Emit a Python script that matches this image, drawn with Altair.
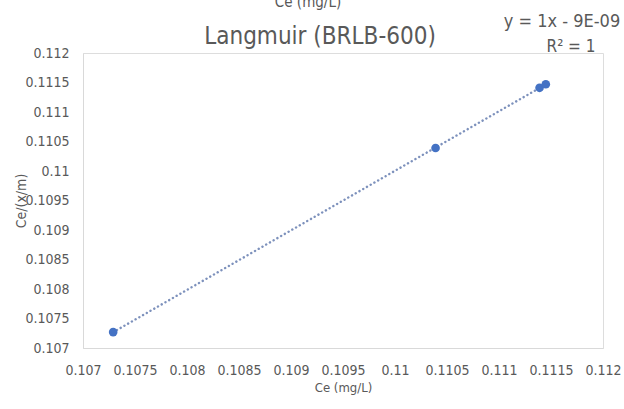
import altair as alt
import pandas as pd

# Data
ce = [0.10729, 0.11039, 0.11139, 0.11145]
ce_xm = [0.10727, 0.11039, 0.11141, 0.11147]
x_ticks = [0.107, 0.1075, 0.108, 0.1085, 0.109, 0.1095, 0.11, 0.1105, 0.111, 0.1115, 0.112]
y_ticks = [0.107, 0.1075, 0.108, 0.1085, 0.109, 0.1095, 0.11, 0.1105, 0.111, 0.1115, 0.112]

title_text = "Langmuir (BRLB-600)"
eq_text = "y = 1x - 9E-09"
r2_text = "R² = 1"
x_title = "Ce (mg/L)"
y_title = "Ce/(x/m)"

df = pd.DataFrame({"Ce": ce, "Cexm": ce_xm})

FONT = "DejaVu Sans Condensed, Lato, sans-serif"
GRAY = "#595959"
BLUE = "#4472C4"
W, H = 520, 295

xs = alt.Scale(domain=[0.107, 0.112], nice=False, zero=False)
ys = alt.Scale(domain=[0.107, 0.112], nice=False, zero=False)

xaxis = alt.Axis(values=x_ticks, format=".4~f", grid=False, ticks=False,
                 labelOverlap=False, labelBound=False, labelFlush=False,
                 domainColor="#d9d9d9", labelColor=GRAY, labelFont=FONT,
                 labelFontSize=14, labelPadding=15, title=x_title,
                 titleFont=FONT, titleFontSize=13, titleFontWeight="normal",
                 titleColor=GRAY, titlePadding=4)
yaxis = alt.Axis(values=y_ticks, format=".4~f", grid=False, ticks=False,
                 labelOverlap=False, labelBound=False, labelFlush=False,
                 tickCount=11,
                 domainColor="#d9d9d9", labelColor=GRAY, labelFont=FONT,
                 labelFontSize=14, labelPadding=14, title=y_title,
                 titleFont=FONT, titleFontSize=14, titleFontWeight="normal",
                 titleColor=GRAY, titleAngle=-90, titleX=-62, titleY=H / 2,
                 titleAlign="center", titleBaseline="middle")

base = alt.Chart(df)

trend = base.transform_regression("Ce", "Cexm").mark_line(
    color="#6f85b5", strokeWidth=2.4, strokeDash=[0.1, 4.2], strokeCap="round", opacity=0.9
).encode(x=alt.X("Ce:Q", scale=xs, axis=xaxis), y=alt.Y("Cexm:Q", scale=ys, axis=yaxis))

points = base.mark_circle(size=75, color=BLUE, opacity=1).encode(
    x=alt.X("Ce:Q", scale=xs, axis=xaxis), y=alt.Y("Cexm:Q", scale=ys, axis=yaxis))

def label(txt, x, y, size, align="center"):
    return alt.Chart(pd.DataFrame({"t": [txt]})).mark_text(
        font=FONT, fontSize=size, color=GRAY, align=align, baseline="middle"
    ).encode(text="t:N", x=alt.value(x), y=alt.value(y))

title = label(title_text, 237, -16, 24)
eq = label(eq_text, 479, -31, 18)
r2 = label(r2_text, 488, -6, 17)
top_cut = label(x_title, 225, -51, 15)

chart = alt.layer(trend, points, title, eq, r2, top_cut).properties(
    width=W, height=H,
    autosize=alt.AutoSizeParams(type="none"),
    padding={"left": 83, "top": 53, "right": 21, "bottom": 61},
).configure_view(stroke=None).configure(background="white")

chart.save("out.html", embed_options={"renderer": "svg", "actions": False})
